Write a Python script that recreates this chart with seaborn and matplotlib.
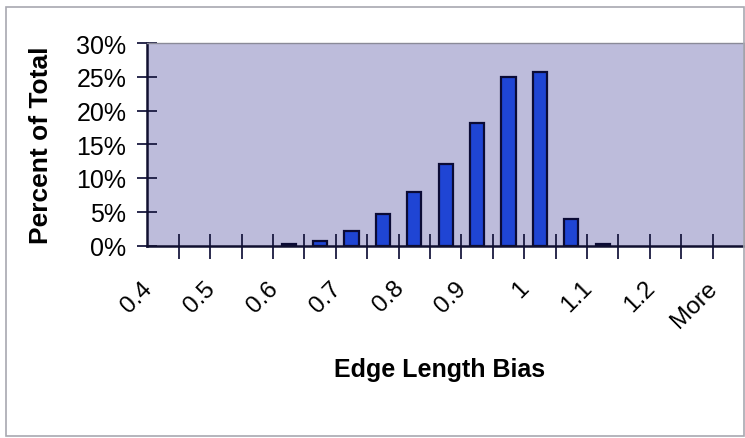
"""
edge length bias histogram
"""

import matplotlib as mpl
import matplotlib.pyplot as plt
import numpy as np
import pandas as pd
import seaborn as sns
from matplotlib.patches import Rectangle
from matplotlib.ticker import FixedLocator, PercentFormatter
from matplotlib.transforms import ScaledTranslation

sns.set_style("white")
mpl.rcParams["font.family"] = ["Liberation Sans", "DejaVu Sans"]
mpl.rcParams["text.color"] = "black"
mpl.rcParams["axes.labelcolor"] = "black"
mpl.rcParams["xtick.color"] = "black"
mpl.rcParams["ytick.color"] = "black"

# histogram bins (every other one gets a label, like excel does)
bins = ["0.4", "0.45", "0.5", "0.55", "0.6", "0.65", "0.7", "0.75", "0.8", "0.85",
        "0.9", "0.95", "1", "1.05", "1.1", "1.15", "1.2", "1.25", "More"]
percent = [0, 0, 0, 0, 0.15, 0.7, 2.2, 4.7, 7.9, 12.1,
           18.1, 25.0, 25.7, 3.9, 0.15, 0, 0, 0, 0]
shown_labels = ["0.4", "0.5", "0.6", "0.7", "0.8", "0.9", "1", "1.1", "1.2", "More"]
y_ticks = [0, 5, 10, 15, 20, 25, 30]

df = pd.DataFrame({"bin": bins, "pct": percent})

fig = plt.figure(figsize=(7.45, 4.39), dpi=100)
ax = fig.add_axes([147.3 / 745, 192.5 / 439, 596.7 / 745, 202.5 / 439])

# outer chart frame
fig.patches.append(Rectangle((6 / 745, 2.5 / 439), 738 / 745, 429 / 439,
                             transform=fig.transFigure, fill=False,
                             edgecolor="#a8a8b0", linewidth=1.2))

ax.set_facecolor("#bdbcdb")
sns.barplot(df, x="bin", y="pct", ax=ax, width=0.45, color="#1f45d4",
            saturation=1, edgecolor="#0b0b35", linewidth=1.6)
# empty bins draw nothing
for bar in ax.patches:
    if bar.get_height() == 0:
        bar.set_visible(False)

ax.set_xlim(-0.5, len(bins) - 0.5)
ax.set_ylim(0, 30)
ax.yaxis.set_major_locator(FixedLocator(y_ticks))
ax.yaxis.set_major_formatter(PercentFormatter(100, decimals=0))
ax.tick_params(axis="y", left=True, direction="inout", length=14, width=1.3,
               labelsize=18, pad=8, color="#1a1a40")

# ticks between categories, labels at every other category
idx = np.arange(len(bins))
ax.xaxis.set_major_locator(FixedLocator(idx[1:] - 0.5))
ax.xaxis.set_minor_locator(FixedLocator(idx[::2]))
ax.set_xticklabels([], minor=False)
ax.set_xticklabels(shown_labels, minor=True, rotation=45, ha="right",
                   va="center", rotation_mode="anchor")
ax.tick_params(axis="x", which="major", bottom=True, direction="inout",
               length=18, width=1.3, color="#1a1a40")
ax.tick_params(axis="x", which="minor", bottom=True, length=0,
               labelsize=17.5, pad=28)
shift = ScaledTranslation(-14 / 100, 0, fig.dpi_scale_trans)
for lbl in ax.get_xticklabels(minor=True):
    lbl.set_transform(lbl.get_transform() + shift)

for side in ["left", "bottom"]:
    ax.spines[side].set_color("#101030")
    ax.spines[side].set_linewidth(1.8)
for side in ["top", "right"]:
    ax.spines[side].set_color("#8a8a98")
    ax.spines[side].set_linewidth(1.0)

ax.set_ylabel("Percent of Total", fontsize=19, fontweight="bold")
ax.yaxis.set_label_coords(-0.158, 0.5)
ax.set_xlabel("Edge Length Bias", fontsize=18, fontweight="bold")
ax.xaxis.set_label_coords(0.489, -0.61)
ax.xaxis.label.set_va("center")

fig.savefig("out.png", dpi=100)
